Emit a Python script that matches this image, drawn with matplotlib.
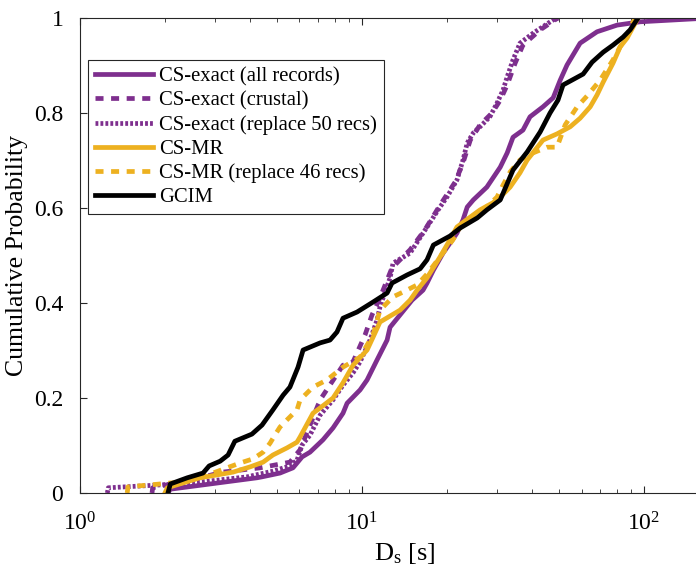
import numpy as np
import matplotlib
matplotlib.use("Agg")
import matplotlib.pyplot as plt

# Cumulative distributions of significant duration Ds [s]
gcim_x = [2.05, 2.09, 2.40, 2.73, 2.87, 3.14, 3.35, 3.54, 4.07, 4.42, 4.83, 5.25, 5.55, 5.93,
          6.18, 7.10, 7.70, 8.15, 8.56, 9.60, 10.94, 12.27, 12.77, 14.44, 16.06, 17.0, 17.9,
          20.5, 22.3, 25.6, 27.7, 30.9, 34.3, 38.5, 42.8, 46.4, 49.5, 51.6, 60.8, 65.4, 71.6,
          77.6, 84.3, 89.2, 95.2]
gcim_p = [0.0, 0.019, 0.032, 0.042, 0.057, 0.067, 0.080, 0.109, 0.124, 0.143, 0.175, 0.206,
          0.223, 0.265, 0.301, 0.316, 0.322, 0.339, 0.368, 0.381, 0.402, 0.421, 0.442, 0.459,
          0.472, 0.491, 0.522, 0.541, 0.558, 0.579, 0.596, 0.617, 0.680, 0.718, 0.760, 0.800,
          0.827, 0.859, 0.882, 0.907, 0.928, 0.943, 0.960, 0.975, 1.0]

cs_all_x = [2.05, 2.09, 4.24, 4.42, 5.12, 5.69, 6.13, 6.54, 7.27, 7.89, 8.56, 8.85, 9.84,
            10.42, 11.30, 12.27, 12.57, 13.64, 15.04, 16.45, 17.0, 17.9, 19.37, 21.7, 22.8,
            23.6, 24.8, 27.7, 30.9, 32.7, 34.3, 37.2, 39.4, 43.8, 47.6, 50.4, 53.3, 59.3,
            68.1, 80.2, 96.8, 170.0]
cs_all_p = [0.0, 0.008, 0.032, 0.034, 0.042, 0.053, 0.076, 0.086, 0.112, 0.137, 0.168, 0.189,
            0.217, 0.238, 0.280, 0.322, 0.349, 0.375, 0.406, 0.427, 0.442, 0.469, 0.505,
            0.547, 0.575, 0.602, 0.617, 0.644, 0.686, 0.716, 0.749, 0.764, 0.792, 0.813,
            0.832, 0.869, 0.901, 0.947, 0.971, 0.985, 0.992, 1.0]

cs_crustal_x = [1.80, 1.81, 2.66, 3.21, 4.35, 5.55, 6.03, 6.98, 7.21, 8.56, 9.29, 10.25,
                10.85, 11.58, 12.77, 14.8, 16.7, 18.9, 21.4, 22.8, 24.2, 26.2, 28.9, 30.9,
                32.7, 34.9, 37.2, 42.8, 48.3, 49.5]
cs_crustal_p = [0.0, 0.011, 0.032, 0.044, 0.053, 0.065, 0.091, 0.185, 0.202, 0.269, 0.276,
                0.333, 0.375, 0.411, 0.474, 0.512, 0.554, 0.606, 0.655, 0.695, 0.743, 0.775,
                0.800, 0.827, 0.859, 0.905, 0.943, 0.975, 0.996, 1.0]

cs_rep50_x = [1.25, 1.26, 1.92, 2.66, 3.91, 4.83, 5.55, 5.88, 6.13, 6.54, 7.10, 7.89, 8.56,
              9.29, 9.84, 10.67, 11.30, 11.58, 12.57, 12.88, 14.8, 16.45, 18.9, 20.0, 21.7,
              22.8, 23.6, 24.8, 26.2, 28.4, 30.1, 31.6, 32.7, 34.3, 36.3, 40.4, 47.6, 49.5]
cs_rep50_p = [0.0, 0.011, 0.017, 0.023, 0.034, 0.046, 0.057, 0.069, 0.101, 0.122, 0.164,
              0.196, 0.227, 0.253, 0.276, 0.322, 0.364, 0.392, 0.453, 0.484, 0.505, 0.547,
              0.602, 0.623, 0.659, 0.701, 0.737, 0.758, 0.771, 0.792, 0.821, 0.848, 0.876,
              0.912, 0.947, 0.968, 0.996, 1.0]

csmr_x = [2.00, 2.04, 2.66, 3.06, 3.49, 4.01, 4.46, 4.83, 5.42, 5.88, 6.03, 6.70, 7.10, 7.89,
          8.56, 9.29, 10.42, 10.94, 11.58, 13.64, 14.8, 15.67, 17.0, 18.9, 20.5, 21.7, 24.2,
          26.2, 29.1, 30.9, 33.5, 36.3, 38.5, 43.8, 49.1, 54.7, 59.3, 64.4, 68.1, 71.6, 77.6,
          82.2, 87.1, 91.4, 95.2]
csmr_p = [0.0, 0.011, 0.032, 0.038, 0.044, 0.055, 0.065, 0.080, 0.095, 0.107, 0.118, 0.168,
          0.179, 0.200, 0.232, 0.269, 0.301, 0.328, 0.360, 0.385, 0.406, 0.427, 0.453, 0.497,
          0.533, 0.560, 0.581, 0.596, 0.611, 0.623, 0.644, 0.674, 0.701, 0.743, 0.756, 0.771,
          0.789, 0.813, 0.838, 0.865, 0.905, 0.939, 0.958, 0.981, 1.0]

csmr_rep46_x = [1.47, 1.48, 1.77, 2.26, 2.66, 2.96, 3.32, 3.69, 4.11, 4.46, 4.72, 4.91, 5.12,
                5.42, 5.88, 6.03, 6.70, 7.51, 8.56, 9.84, 10.94, 11.58, 12.88, 13.97, 15.67,
                17.0, 18.9, 21.0, 22.3, 26.2, 30.1, 31.6, 33.5, 36.3, 40.4, 45.3, 49.1, 52.5,
                57.9, 62.8, 69.8, 77.6, 82.2, 87.1, 91.4, 95.2]
csmr_rep46_p = [0.0, 0.013, 0.017, 0.023, 0.034, 0.042, 0.053, 0.063, 0.072, 0.086, 0.105,
                0.122, 0.139, 0.154, 0.175, 0.196, 0.223, 0.238, 0.265, 0.286, 0.333, 0.385,
                0.413, 0.423, 0.438, 0.461, 0.497, 0.533, 0.560, 0.589, 0.623, 0.648, 0.676,
                0.701, 0.716, 0.728, 0.728, 0.775, 0.813, 0.836, 0.869, 0.912, 0.939, 0.964,
                0.992, 1.0]

purple = "#7E2F8E"
orange = "#EDB120"

plt.rcParams["font.family"] = ["Liberation Serif", "DejaVu Serif"]
plt.rcParams["mathtext.fontset"] = "custom"
plt.rcParams["mathtext.rm"] = "Liberation Serif"
plt.rcParams["mathtext.it"] = "Liberation Serif:italic"

fig = plt.figure(figsize=(6.96, 5.73), dpi=100)
ax = fig.add_axes([80 / 696, 80 / 573, 649 / 696, 475 / 573])

lw = 3.4
ax.plot(cs_all_x, cs_all_p, color=purple, lw=lw, label="CS-exact (all records)")
ax.plot(cs_crustal_x, cs_crustal_p, color=purple, lw=lw, ls=(0, (1.7, 1.6)),
        label="CS-exact (crustal)")
ax.plot(cs_rep50_x, cs_rep50_p, color=purple, lw=lw, ls=(0, (0.6, 0.45)),
        label="CS-exact (replace 50 recs)")
ax.plot(csmr_x, csmr_p, color=orange, lw=lw, label="CS-MR")
ax.plot(csmr_rep46_x, csmr_rep46_p, color=orange, lw=lw, ls=(0, (1.7, 1.6)),
        label="CS-MR (replace 46 recs)")
ax.plot(gcim_x, gcim_p, color="black", lw=lw, label="GCIM")

ax.set_xscale("log")
ax.set_xlim(1, 200)
ax.set_ylim(0, 1)
ax.set_yticks([0, 0.2, 0.4, 0.6, 0.8, 1.0])
ax.set_yticklabels(["0", "0.2", "0.4", "0.6", "0.8", "1"])

for side in ["left", "bottom", "top", "right"]:
    ax.spines[side].set_color("#262626")
    ax.spines[side].set_linewidth(0.8)
ax.tick_params(which="both", direction="in", top=True, right=False,
               colors="#262626", labelcolor="black")
ax.tick_params(which="major", length=5)
ax.tick_params(which="minor", length=3)
ax.tick_params(axis="y", labelsize=17, pad=12)
ax.tick_params(axis="x", labelsize=17, pad=14)

ax.set_xlabel(r"$\mathrm{D_s}$ [s]", fontsize=19, labelpad=4)
ax.set_ylabel("Cumulative Probability", fontsize=18.5, labelpad=4)

leg = ax.legend(loc="upper left", bbox_to_anchor=(0.012, 0.912), fontsize=14.9,
                handlelength=2.8, handletextpad=0.3, labelspacing=0.22,
                borderpad=0.35, borderaxespad=0, fancybox=False, framealpha=1)
leg.get_frame().set_edgecolor("#262626")
leg.get_frame().set_linewidth(0.8)

fig.savefig("out.png", dpi=100)
